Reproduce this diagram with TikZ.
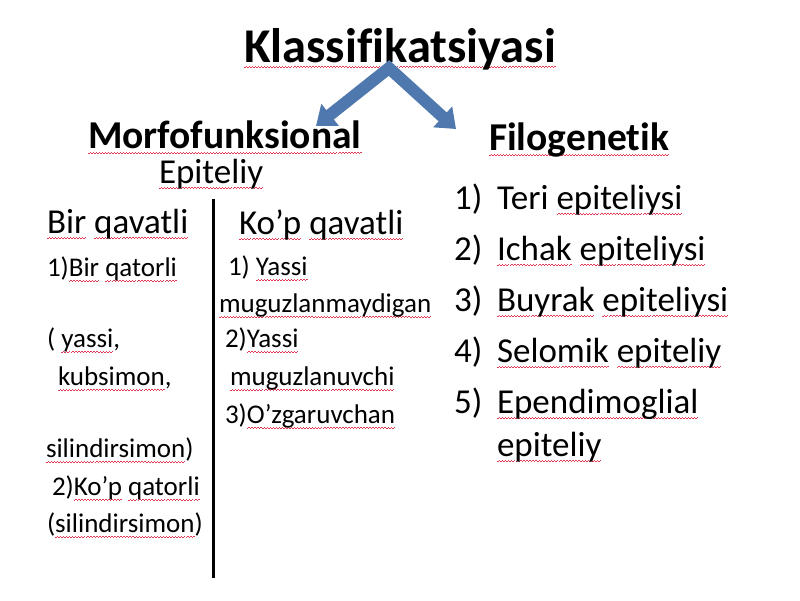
\documentclass[tikz,border=0pt]{standalone}
\usepackage{fontspec}
\setmainfont{Carlito}[Ligatures=NoCommon]
\usetikzlibrary{arrows.meta}
\definecolor{arrowblue}{HTML}{4F79AE}
\definecolor{waveRed}{HTML}{E23A55}
\newcommand\wavecell{\hbox{\rule[0pt]{1.5pt}{0.75pt}\rule[0.8pt]{1.5pt}{0.75pt}}}
\newcommand\sq[1]{\leavevmode\setbox0\hbox{#1}%
  \rlap{\raisebox{-5.5pt}[0pt][0pt]{\color{waveRed}\hbox to \wd0{\xleaders\wavecell\hfill}}}\box0\relax}
\tikzset{
  txt/.style={anchor=base west, inner sep=0pt, outer sep=0pt},
  titlefont/.style={font=\fontsize{48.5}{58}\selectfont\bfseries},
  headfont/.style={font=\fontsize{39.5}{47}\selectfont\bfseries},
  bodyfont/.style={font=\fontsize{35}{42}\selectfont},
  smallfont/.style={font=\fontsize{27}{32}\selectfont},
  bigarrow/.style={draw=arrowblue, line width=12pt, line join=miter,
    {Triangle[width=27pt,length=18pt]}-{Triangle[width=27pt,length=18pt]}},
  divider/.style={draw=black, line width=3pt}
}
\begin{document}
\begin{tikzpicture}[x=1pt,y=-1pt]
\useasboundingbox[fill=white] (0,0) rectangle (800,600);
% title and arrows
\node[titlefont, anchor=base, inner sep=0pt] (title) at (400,62) {\sq{Klassifikatsiyasi}};
\coordinate (apex) at (389,68);
\coordinate (tipL) at (316,126);
\coordinate (tipR) at (456,129);
\draw[bigarrow] (tipL) -- (apex) -- (tipR);
% headings
\node[headfont, txt] (morf) at (88,148) {\sq{Morfofunksional}};
\node[headfont, txt] (filo) at (489,150) {\sq{Filogenetik}};
\node[bodyfont, txt] (epit) at (159,183) {\sq{Epiteliy}};
% divider
\coordinate (divtop) at (213,199);
\coordinate (divbot) at (213,578);
\draw[divider] (divtop) -- (divbot);
% left column
\node[bodyfont, txt] (bir) at (47,233) {\sq{Bir} \sq{qavatli}};
\node[smallfont, txt] (l1) at (47,276) {1)\sq{Bir} \sq{qatorli}};
\node[smallfont, txt] (l2) at (47,347) {( \sq{yassi},};
\node[smallfont, txt] (l3) at (58,385) {\sq{kubsimon},};
\node[smallfont, txt] (l4) at (46,457) {\sq{silindirsimon})};
\node[smallfont, txt] (l5) at (52,495) {2)\sq{Ko’p} \sq{qatorli}};
\node[smallfont, txt] (l6) at (47,532) {(\sq{silindirsimon})};
% middle column
\node[bodyfont, txt] (kop) at (239,234) {\sq{Ko’p} \sq{qavatli}};
\node[smallfont, txt] (m1) at (228,275) {1) \sq{Yassi}};
\node[smallfont, txt] (m2) at (219,312) {\sq{muguzlanmaydigan}};
\node[smallfont, txt] (m3) at (225,347) {2)\sq{Yassi}};
\node[smallfont, txt] (m4) at (230,385) {\sq{muguzlanuvchi}};
\node[smallfont, txt] (m5) at (225,423) {3)\sq{O’zgaruvchan}};
% right column
\node[bodyfont, txt] (n1) at (454,209) {1)};
\node[bodyfont, txt] (r1) at (497,209) {Teri \sq{epiteliysi}};
\node[bodyfont, txt] (n2) at (454,260) {2)};
\node[bodyfont, txt] (r2) at (497,260) {\sq{Ichak} \sq{epiteliysi}};
\node[bodyfont, txt] (n3) at (454,311) {3)};
\node[bodyfont, txt] (r3) at (497,311) {\sq{Buyrak} \sq{epiteliysi}};
\node[bodyfont, txt] (n4) at (454,362) {4)};
\node[bodyfont, txt] (r4) at (497,362) {\sq{Selomik} \sq{epiteliy}};
\node[bodyfont, txt] (n5) at (454,413) {5)};
\node[bodyfont, txt] (r5) at (497,413) {\sq{Ependimoglial}};
\node[bodyfont, txt] (r6) at (497,456) {\sq{epiteliy}};
\end{tikzpicture}
\end{document}
